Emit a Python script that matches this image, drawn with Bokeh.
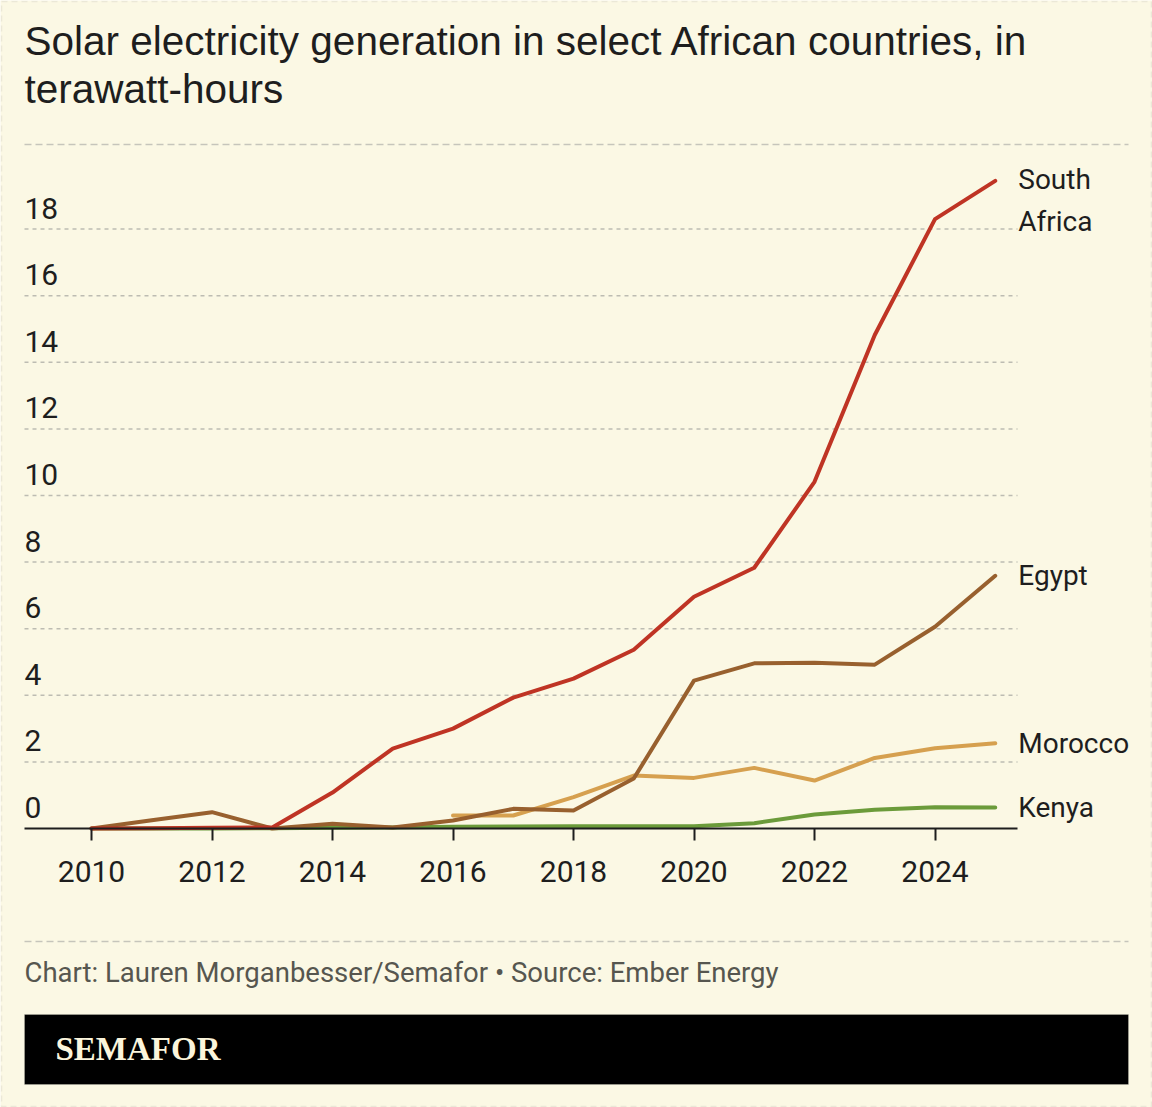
from bokeh.plotting import figure
from bokeh.models import Range1d, FixedTicker, Label, BoxAnnotation, Arrow, ColumnDataSource
from bokeh.embed import file_html
from bokeh.resources import INLINE

# ---------------- data ----------------
years = [2010, 2011, 2012, 2013, 2014, 2015, 2016, 2017, 2018, 2019, 2020, 2021, 2022, 2023, 2024, 2025]
south_africa = [0.0, 0.01, 0.02, 0.03, 1.08, 2.40, 3.00, 3.93, 4.50, 5.37, 6.96, 7.83, 10.41, 14.82, 18.30, 19.45]
egypt = [0.0, 0.25, 0.49, 0.0, 0.14, 0.03, 0.24, 0.59, 0.54, 1.50, 4.44, 4.96, 4.98, 4.92, 6.06, 7.59]
morocco_years = [2016, 2017, 2018, 2019, 2020, 2021, 2022, 2023, 2024, 2025]
morocco = [0.39, 0.39, 0.94, 1.59, 1.52, 1.82, 1.44, 2.12, 2.41, 2.56]
kenya = [0.0, 0.0, 0.0, 0.01, 0.02, 0.03, 0.05, 0.06, 0.07, 0.07, 0.07, 0.16, 0.42, 0.56, 0.64, 0.63]

x_ticks = [2010, 2012, 2014, 2016, 2018, 2020, 2022, 2024]
y_ticks = [0, 2, 4, 6, 8, 10, 12, 14, 16, 18]

title_lines = ["Solar electricity generation in select African countries, in", "terawatt-hours"]
source_text = "Chart: Lauren Morganbesser/Semafor \u2022 Source: Ember Energy"
brand = "SEMAFOR"

# ---------------- style ----------------
BG = "#FBF8E4"
INK = "#1E1E1E"
GRID = "#BDBCB2"
SEP = "#C6C5BB"
COLORS = {
    "South Africa": "#BF3424",
    "Egypt": "#98602E",
    "Morocco": "#D6A04F",
    "Kenya": "#6B9B3A",
}
TICK_FONT = "Roboto"
W, H = 1152, 1107

# the frame covers the whole canvas; ranges chosen so the plot area sits inside it
PX_PER_YEAR = 60.25
PX_PER_UNIT = 33.3
X_AT_2010 = 91      # canvas px
Y_AT_0 = 828        # canvas px
XR0 = 2010 - X_AT_2010 / PX_PER_YEAR
XR1 = 2010 + (W - X_AT_2010) / PX_PER_YEAR
YR0 = -(H - Y_AT_0) / PX_PER_UNIT
YR1 = Y_AT_0 / PX_PER_UNIT
PLOT_LEFT = XR0 + 24 / PX_PER_YEAR      # data x at left edge of plot area
PLOT_RIGHT = XR0 + 1017 / PX_PER_YEAR   # data x at right edge of plot area

p = figure(
    width=W, height=H,
    x_range=Range1d(XR0, XR1), y_range=Range1d(YR0, YR1),
    output_backend="svg", toolbar_location=None,
    y_axis_location=None,
    min_border=0, min_border_left=0, min_border_right=0, min_border_top=0, min_border_bottom=0,
    background_fill_color=BG, border_fill_color=BG,
    outline_line_color=None,
)

p.xgrid.visible = False
p.ygrid.visible = False

# horizontal dashed gridlines limited to the plot area
gy = y_ticks[1:]
gsrc = ColumnDataSource(dict(x0=[PLOT_LEFT] * len(gy), x1=[PLOT_RIGHT] * len(gy), y=gy))
p.segment(x0="x0", y0="y", x1="x1", y1="y", source=gsrc,
          line_color=GRID, line_width=1.5, line_dash="4 4")

# x axis at y = 0
xa = p.xaxis[0]
xa.fixed_location = 0
xa.bounds = (PLOT_LEFT, PLOT_RIGHT)
xa.ticker = FixedTicker(ticks=x_ticks)
xa.axis_line_color = INK
xa.axis_line_width = 2
xa.major_tick_line_color = INK
xa.major_tick_line_width = 2
xa.major_tick_in = 0
xa.major_tick_out = 12
xa.minor_tick_line_color = None
xa.major_label_text_font = TICK_FONT
xa.major_label_text_font_size = "30px"
xa.major_label_text_color = INK
xa.major_label_standoff = 20

# y tick labels (inside plot, above gridlines)
for t in y_ticks:
    p.add_layout(Label(x=PLOT_LEFT, y=t, y_offset=21, text=str(t), text_font=TICK_FONT,
                       text_font_size="30px", text_color=INK, text_align="left", text_baseline="middle"))

# lines
lw = 4
p.line(years, kenya, line_color=COLORS["Kenya"], line_width=lw, line_cap="round", line_join="round")
p.line(morocco_years, morocco, line_color=COLORS["Morocco"], line_width=lw, line_cap="round", line_join="round")
p.line(years, egypt, line_color=COLORS["Egypt"], line_width=lw, line_cap="round", line_join="round")
p.line(years, south_africa, line_color=COLORS["South Africa"], line_width=lw, line_cap="round", line_join="round")

# end labels
def end_label(text, x, y, yoff=0):
    p.add_layout(Label(x=x, y=y, x_offset=23, y_offset=yoff, text=text, text_font=TICK_FONT,
                       text_font_size="28px", text_color=INK, text_baseline="middle", text_align="left"))

end_label("South", years[-1], south_africa[-1], 1)
end_label("Africa", years[-1], south_africa[-1], -41)
end_label("Egypt", years[-1], egypt[-1])
end_label("Morocco", morocco_years[-1], morocco[-1])
end_label("Kenya", years[-1], kenya[-1])

# ---------------- chrome (screen units, origin at canvas bottom-left) ----------------
def sy(cy):
    return H - cy

# title
for i, line in enumerate(title_lines):
    p.add_layout(Label(x=24, y=sy(40 + 48 * i), x_units="screen", y_units="screen", text=line,
                       text_font="Liberation Sans", text_font_size="40.5px", text_color=INK,
                       text_baseline="alphabetic", text_align="left"))

# separators
for cy in (144, 941):
    p.add_layout(Arrow(end=None, x_start=24, y_start=sy(cy), x_end=1128, y_end=sy(cy),
                       start_units="screen", end_units="screen",
                       line_color=SEP, line_width=1.5, line_dash="7 4"))

# source
p.add_layout(Label(x=24, y=sy(972), x_units="screen", y_units="screen", text=source_text,
                   text_font=TICK_FONT, text_font_size="27.5px", text_color="#56564F",
                   text_baseline="alphabetic", text_align="left"))

# footer bar
p.add_layout(BoxAnnotation(left=24, right=1128, top=sy(1014), bottom=sy(1084),
                           left_units="screen", right_units="screen", top_units="screen", bottom_units="screen",
                           fill_color="black", fill_alpha=1, line_color="#D8D6C6", line_width=1))
p.add_layout(Label(x=55, y=sy(1048), x_units="screen", y_units="screen", text=brand,
                   text_font="Liberation Serif", text_font_style="bold", text_font_size="33px",
                   text_color="#FBF5DC", text_baseline="alphabetic", text_align="left"))

# outer dashed border
p.add_layout(BoxAnnotation(left=1, right=W - 1, top=sy(1), bottom=sy(H - 1),
                           left_units="screen", right_units="screen", top_units="screen", bottom_units="screen",
                           fill_alpha=0, line_color=SEP, line_width=1.5, line_dash="6 4"))

open("out.html", "w").write(file_html(p, INLINE))
